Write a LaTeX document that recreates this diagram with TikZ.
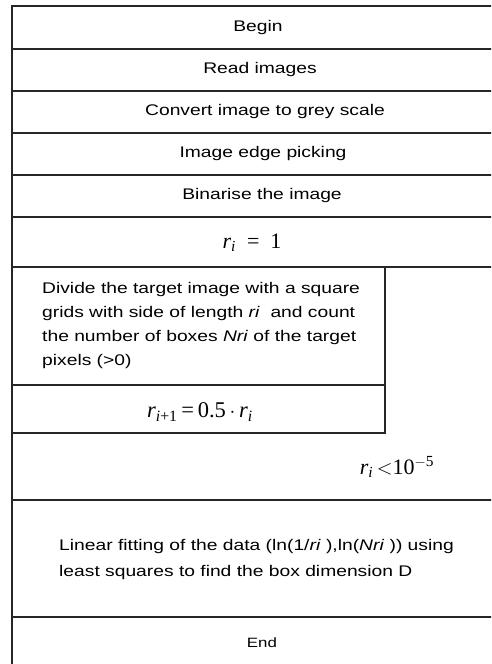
\documentclass[tikz,border=0pt]{standalone}
\usepackage{fontspec}
\setmainfont{Liberation Sans}
\newfontfamily\rowfont[FakeStretch=1.25]{Liberation Sans}
\newfontfamily\eqfont{Liberation Serif}
\usepackage{tikz}
\usetikzlibrary{positioning}

\begin{document}
\begin{tikzpicture}[
    x=1pt, y=-1pt,
    frame/.style={line width=1.2pt, black!85},
    rowtext/.style={inner sep=0pt, font=\rowfont\fontsize{15.4}{24}\selectfont},
    smalltext/.style={inner sep=0pt, font=\rowfont\fontsize{13.5}{20}\selectfont},
    blocktext/.style={inner sep=0pt, align=left, anchor=west, font=\rowfont\fontsize{15.4}{24}\selectfont},
    mathtext/.style={inner sep=0pt, font=\eqfont\fontsize{22}{24}\selectfont}
]
    \useasboundingbox (0,0) rectangle (491,664);
    \begin{scope}
    \clip (0,0) rectangle (491,664);
    % outer frame and full-width rows
    \draw[frame] (12,664) -- (12,6) -- (512,6);
    \foreach \y in {49,91,133,175,217,267,500,617}
        \draw[frame] (12,\y) -- (512,\y);
    % loop body box
    \draw[frame] (385,267) -- (385,433) -- (12,433);
    \draw[frame] (12,385) -- (385,385);
    \end{scope}

    \node[rowtext] (begin) at (258,28) {Begin};
    \node[rowtext] (read) at (260,70) {Read images};
    \node[rowtext] (grey) at (265,112) {Convert image to grey scale};
    \node[rowtext] (edge) at (263,154) {Image edge picking};
    \node[rowtext] (binar) at (262,196) {Binarise the image};
    \node[mathtext] (init) at (252,243) {\textit{r}\textsubscript{\textit{i}}~~=~~1};
    \node[blocktext] (divide) at (42,326) {Divide the target image with a square\\
        grids with side of length \textit{ri}~ and count\\
        the number of boxes \textit{Nri} of the target\\
        pixels (>0)};
    \node[mathtext, font=\eqfont\fontsize{22.5}{24}\selectfont] (half) at (200,412)
        {\textit{r}\textsubscript{\textit{i}+1}\,=\,0.5\,$\cdot$\,\textit{r}\textsubscript{\textit{i}}};
    \node[mathtext] (cond) at (397,467) {\textit{r}\textsubscript{\textit{i}}\,$<$10\textsuperscript{$-$5}};
    \node[blocktext, font=\rowfont\fontsize{15.4}{26}\selectfont] (fit) at (59,560)
        {Linear fitting of the data (ln(1/\textit{ri} ),ln(\textit{Nri} )) using\\
        least squares to find the box dimension D};
    \node[smalltext] (end) at (262,643) {End};
\end{tikzpicture}
\end{document}
